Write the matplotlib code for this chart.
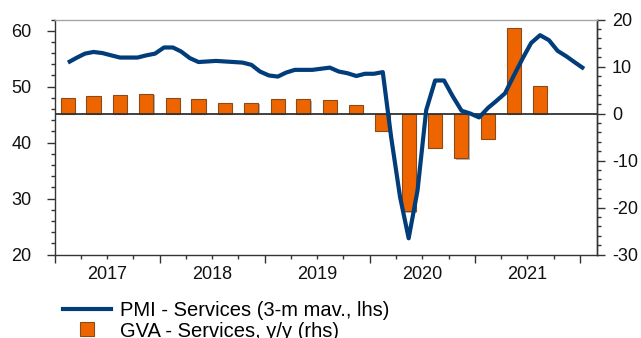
import pandas as pd
import matplotlib
matplotlib.use("Agg")
import matplotlib.pyplot as plt
import matplotlib.patheffects as pe
from matplotlib.lines import Line2D
from matplotlib.ticker import MultipleLocator

plt.rcParams['font.family'] = ['Liberation Sans', 'DejaVu Sans']
plt.rcParams['axes.unicode_minus'] = False

# Monthly PMI for services, 3-month moving average (Feb 2017 - Jan 2022)
pmi_months = pd.date_range("2017-02-01", periods=60, freq="MS") + pd.Timedelta(days=14)
pmi_services = [
    54.3, 55.1, 55.9, 56.2, 56.0, 55.6, 55.2, 55.2, 55.2, 55.6, 55.9,
    57.0, 57.0, 56.3, 55.1, 54.4, 54.5, 54.6, 54.5, 54.4, 54.3, 53.9, 52.7,
    52.0, 51.8, 52.5, 53.0, 53.0, 53.0, 53.2, 53.4, 52.7, 52.4, 51.9, 52.3,
    52.3, 52.6, 41.0, 30.3, 22.9, 31.5, 45.8, 51.1, 51.1, 48.3, 45.7, 45.2,
    44.5, 46.2, 47.4, 48.8, 51.9, 55.0, 57.8, 59.2, 58.3, 56.4, 55.4, 54.3,
    53.2,
]

# Quarterly gross value added in services, % y/y (Q1 2017 - Q3 2021)
gva_quarters = pd.date_range("2017-01-01", periods=19, freq="QS") + pd.Timedelta(days=44)
gva_services = [
    3.3, 3.8, 4.0, 4.2,
    3.3, 3.0, 2.3, 2.3,
    3.0, 3.0, 2.8, 1.9,
    -3.7, -20.8, -7.3, -9.5,
    -5.4, 18.1, 5.9,
]

years = [2017, 2018, 2019, 2020, 2021]
pmi_label = "PMI - Services (3-m mav., lhs)"
gva_label = "GVA - Services, y/y (rhs)"

NAVY = "#023D7B"
ORANGE = "#EE6500"
BAR_EDGE = "#8A4A1A"
DARK = "#333333"
TEXT = "#111111"

fig = plt.figure(figsize=(6.41, 3.38), dpi=100)
ax = fig.add_axes([0.0858, 0.2470, 0.8451, 0.6953])
ax2 = ax.twinx()
ax.set_zorder(ax2.get_zorder() + 1)
ax.patch.set_visible(False)

# bars on the right-hand axis
bars = ax2.bar(gva_quarters, gva_services, width=49, color=ORANGE,
               edgecolor=BAR_EDGE, linewidth=0.8, zorder=2)
for b in bars:
    b.set_path_effects([pe.SimplePatchShadow(offset=(1.0, -1.0),
                                             shadow_rgbFace="#888888", alpha=0.6),
                        pe.Normal()])
ax2.axhline(0, color=DARK, lw=1.3, zorder=3)

# PMI line on the left-hand axis
ax.plot(pmi_months, pmi_services, color=NAVY, lw=3.0,
        solid_joinstyle="round", solid_capstyle="butt", zorder=4)

ax.set_xlim(pd.Timestamp("2017-01-13"), pd.Timestamp("2022-02-28"))
ax.set_ylim(20, 62)
ax2.set_ylim(-30, 20)

# y axes
ax.set_yticks([20, 30, 40, 50, 60])
ax.yaxis.set_minor_locator(MultipleLocator(2))
ax2.set_yticks([-30, -20, -10, 0, 10, 20])
ax2.yaxis.set_minor_locator(MultipleLocator(2))
ax.tick_params(axis="y", which="major", direction="out", length=6, width=1.0,
               pad=11, labelsize=13, color=DARK, labelcolor=TEXT)
ax.tick_params(axis="y", which="minor", direction="out", length=3, width=1.0, color=DARK)
ax2.tick_params(axis="y", which="major", direction="out", length=6, width=1.0,
                pad=5, labelsize=13, color=DARK, labelcolor=TEXT)
ax2.tick_params(axis="y", which="minor", direction="out", length=3, width=1.0, color=DARK)

# x axis: year boundaries as major ticks, quarters as minor ticks, year label mid-year
major_x = [pd.Timestamp(f"{y}-01-01") for y in years + [2022]]
minor_x, minor_lab = [], []
for y in years:
    for m in (4, 7, 10):
        minor_x.append(pd.Timestamp(f"{y}-{m:02d}-01"))
        minor_lab.append(str(y) if m == 7 else "")
ax.set_xticks(major_x)
ax.set_xticklabels([""] * len(major_x))
ax.set_xticks(minor_x, minor=True)
ax.set_xticklabels(minor_lab, minor=True)
ax.tick_params(axis="x", which="major", direction="out", length=6, width=1.0, color=DARK)
ax.tick_params(axis="x", which="minor", direction="out", length=3, width=1.0,
               color=DARK, pad=5, labelsize=13, labelcolor=TEXT)

# spines
for s in ("left", "bottom", "right"):
    ax.spines[s].set_color(DARK)
    ax.spines[s].set_linewidth(1.0)
ax.spines["top"].set_color("#A6A6A6")
ax.spines["top"].set_linewidth(1.0)
for s in ("top", "left", "bottom"):
    ax2.spines[s].set_visible(False)
ax2.spines["right"].set_color(DARK)
ax2.spines["right"].set_linewidth(1.0)

handles = [
    Line2D([], [], color=NAVY, lw=3.0),
    Line2D([], [], ls="none", marker="s", markersize=10,
           markerfacecolor=ORANGE, markeredgecolor=BAR_EDGE, markeredgewidth=0.8),
]
fig.legend(handles, [pmi_label, gva_label], loc="upper left",
           bbox_to_anchor=(0.098, 0.108), frameon=False, fontsize=14.5,
           handlelength=2.4, handletextpad=0.45, labelspacing=0.05,
           borderpad=0, borderaxespad=0)

fig.savefig("out.png", dpi=100)
